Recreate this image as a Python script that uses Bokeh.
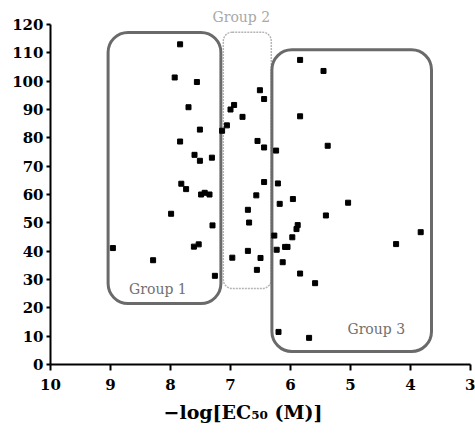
from bokeh.plotting import figure
from bokeh.models import Range1d, BoxAnnotation, Label, FixedTicker, Title
from bokeh.embed import file_html
from bokeh.resources import INLINE

# -log[EC50] values (x) and response values (y)
pec50 = [7.84, 7.93, 7.56, 7.70, 7.51, 7.84, 7.60, 7.51, 7.31, 7.82, 7.74,
         7.49, 7.43, 7.35, 7.99, 8.96, 8.29, 7.61, 7.53, 7.30, 7.26,
         7.14, 7.06, 7.00, 6.94, 6.80, 6.51, 6.44, 6.55, 6.44, 6.44, 6.57,
         6.71, 6.69, 6.71, 6.97, 6.50, 6.56,
         6.24, 6.21, 6.18, 5.96, 5.04, 5.41, 5.84, 5.45, 5.84, 5.38, 5.88,
         5.90, 5.97, 6.27, 3.83, 4.24, 6.23, 6.09, 6.05, 6.13, 5.84, 5.59,
         6.20, 5.69]
response = [113.0, 101.3, 99.7, 90.8, 82.9, 78.7, 74.0, 71.9, 73.0, 63.8, 61.9,
            60.0, 60.6, 60.0, 53.2, 41.1, 36.8, 41.6, 42.4, 49.1, 31.3,
            82.5, 84.4, 90.0, 91.6, 87.4, 96.8, 93.7, 78.9, 76.6, 64.4, 59.7,
            54.6, 50.1, 40.1, 37.7, 37.6, 33.4,
            75.5, 63.9, 56.7, 58.4, 57.1, 52.6, 107.5, 103.6, 87.6, 77.2, 49.2,
            47.8, 44.9, 45.5, 46.7, 42.5, 40.5, 41.5, 41.5, 36.1, 32.1, 28.7,
            11.5, 9.4]

# group regions (data units)
group_names = ["Group 1", "Group 2", "Group 3"]
group_left = [9.04, 7.12, 6.31]
group_right = [7.16, 6.32, 3.65]
group_bottom = [21.5, 26.8, 4.6]
group_top = [117.2, 117.3, 111.1]

x_ticks = [10, 9, 8, 7, 6, 5, 4, 3]
y_ticks = [0, 10, 20, 30, 40, 50, 60, 70, 80, 90, 100, 110, 120]
x_title = "\u2212log[EC\u2085\u2080 (M)]"

p = figure(width=475, height=435, output_backend="svg", toolbar_location=None,
           x_range=Range1d(10, 3), y_range=Range1d(0, 120),
           min_border_left=50, min_border_right=5, min_border_top=24,
           min_border_bottom=71)
p.outline_line_color = None
p.grid.visible = False
p.background_fill_color = "white"
p.border_fill_color = "white"

box_styles = [
    dict(line_color="#6a6a6a", line_width=3, line_dash="solid", radius=20),
    dict(line_color="#b4b4b4", line_width=1.5, line_dash="2 1", radius=9),
    dict(line_color="#6a6a6a", line_width=3, line_dash="solid", radius=20),
]
for i, st in enumerate(box_styles):
    p.add_layout(BoxAnnotation(left=group_left[i], right=group_right[i],
                               bottom=group_bottom[i], top=group_top[i],
                               fill_alpha=0, line_color=st["line_color"],
                               line_alpha=1.0,
                               line_width=st["line_width"],
                               line_dash=st["line_dash"],
                               border_radius=st["radius"], level="underlay"))

p.scatter(pec50, response, marker="square", size=5, color="black")

label_pos = {0: (8.21, 26.8), 2: (4.57, 12.7)}
for i in (0, 2):
    p.add_layout(Label(x=label_pos[i][0], y=label_pos[i][1], text=group_names[i],
                       text_align="center", text_baseline="middle",
                       text_font="DejaVu Serif", text_font_size="14px",
                       text_color="#707070"))

# Group 2 label sits above the plotting area
p.add_layout(Title(text=group_names[1], align="left", offset=162,
                   text_font="DejaVu Serif", text_font_size="14px",
                   text_font_style="normal", text_color="#a8a8a8",
                   standoff=0), "above")

for ax in (p.xaxis[0], p.yaxis[0]):
    ax.axis_line_width = 2
    ax.axis_line_color = "black"
    ax.major_tick_line_width = 2
    ax.minor_tick_line_color = None
    ax.major_label_text_font = "DejaVu Serif"
    ax.major_label_text_font_style = "bold"
    ax.major_label_text_font_size = "15px"
    ax.major_label_text_color = "black"

p.xaxis.ticker = FixedTicker(ticks=x_ticks)
p.yaxis.ticker = FixedTicker(ticks=y_ticks)
p.xaxis.major_tick_out = 6
p.xaxis.major_tick_in = 0
p.xaxis.major_label_standoff = 8
p.yaxis.major_tick_out = 4
p.yaxis.major_tick_in = 0
p.yaxis.major_label_standoff = 3

p.add_layout(Title(text=x_title, align="left", offset=113,
                   text_font="DejaVu Serif", text_font_size="19px",
                   text_font_style="bold", text_color="black",
                   standoff=12), "below")

open("out.html", "w").write(file_html(p, INLINE))
